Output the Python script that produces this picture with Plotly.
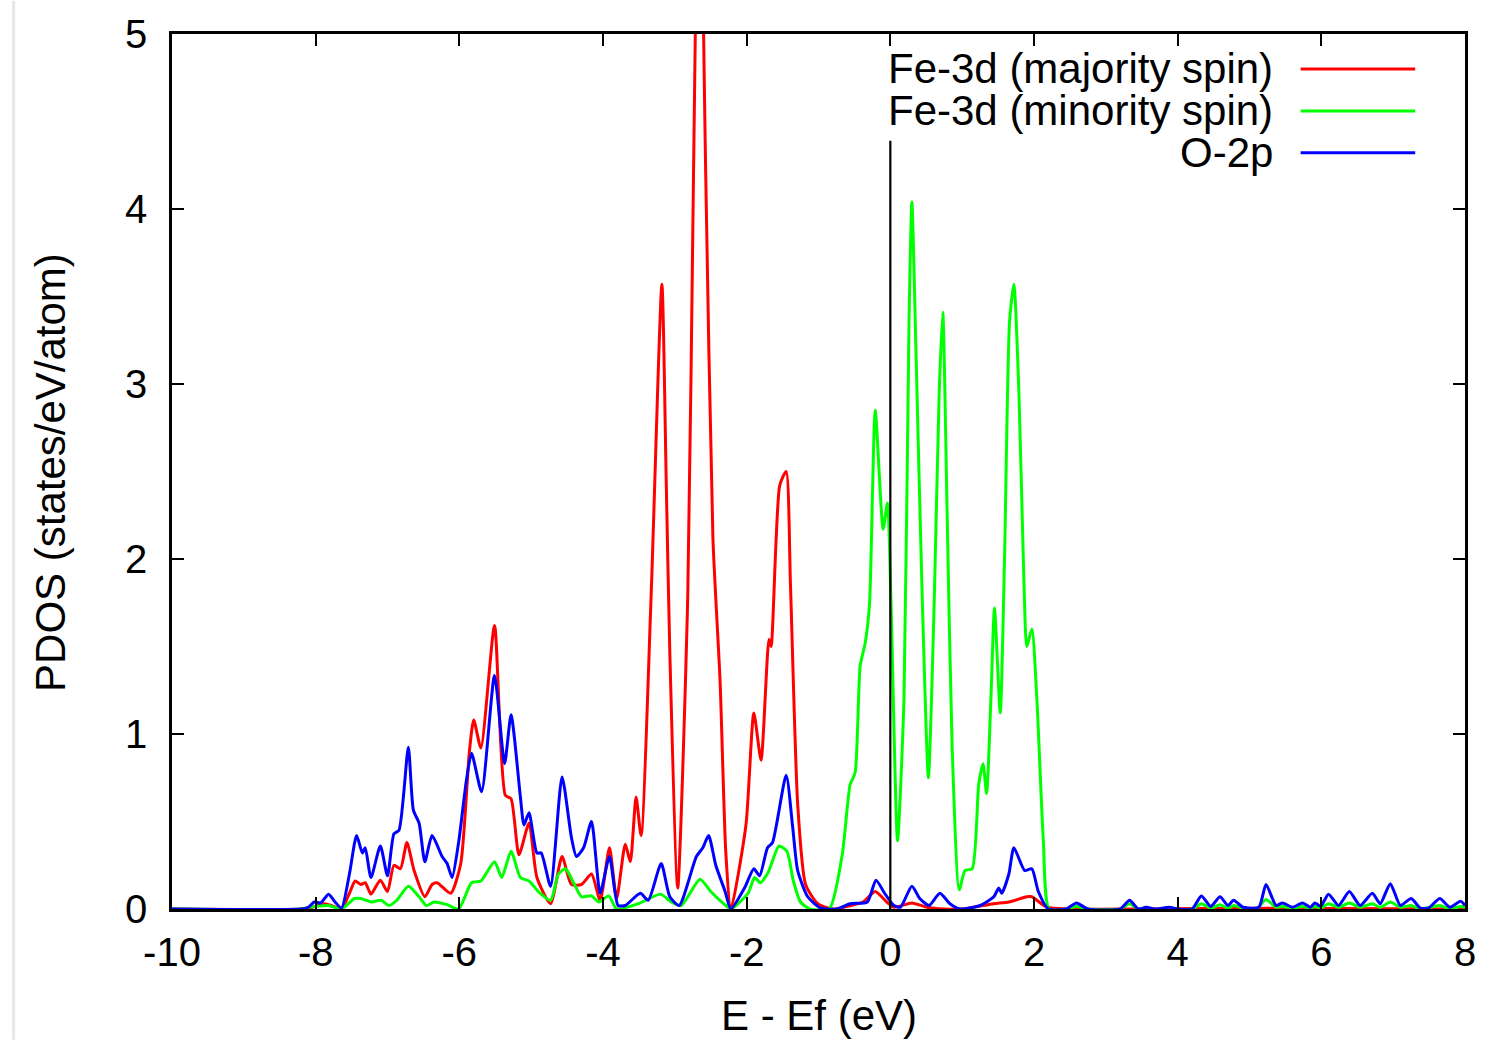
import plotly.graph_objects as go

# ---------------- data ----------------
e_up = [-10.0, -8.20, -8.05, -7.88, -7.78, -7.64, -7.53, -7.45, -7.37, -7.31, -7.23, -7.10, -7.00,
        -6.91, -6.82, -6.73, -6.63, -6.48, -6.38, -6.31, -6.12, -5.98, -5.86, -5.80, -5.70, -5.51,
        -5.36, -5.28, -5.17, -5.03, -4.92, -4.73, -4.57, -4.44, -4.30, -4.16, -4.04, -3.91, -3.81,
        -3.69, -3.62, -3.54, -3.47, -3.33, -3.18, -3.12, -3.07, -2.96, -2.82, -2.74, -2.66, -2.57,
        -2.47, -2.37, -2.29, -2.22, -2.01, -1.90, -1.80, -1.69, -1.66, -1.54, -1.45, -1.39, -1.29,
        -1.18, -1.01, -0.80, -0.55, -0.38, -0.21, -0.05, 0.05, 0.30, 0.51, 0.75, 1.00, 1.44, 1.65,
        1.90, 1.97, 2.18, 2.50, 5.23, 8.00]
dos_up = [0.0, 0.0, 0.01, 0.03, 0.02, 0.0, 0.09, 0.16, 0.14, 0.15, 0.085, 0.165, 0.10,
          0.25, 0.23, 0.38, 0.22, 0.07, 0.14, 0.15, 0.09, 0.26, 0.90, 1.08, 0.92, 1.62,
          0.65, 0.63, 0.31, 0.49, 0.18, 0.03, 0.30, 0.14, 0.14, 0.20, 0.05, 0.35, 0.06,
          0.37, 0.27, 0.64, 0.42, 1.79, 3.57, 2.45, 1.47, 0.12, 1.79, 4.20, 6.40, 4.20,
          2.12, 1.30, 0.32, 0.0, 0.48, 1.12, 0.85, 1.54, 1.50, 2.42, 2.50, 1.85, 0.60,
          0.14, 0.03, 0.0, 0.02, 0.04, 0.10, 0.04, 0.01, 0.035, 0.01, 0.0, 0.0, 0.03, 0.04,
          0.07, 0.07, 0.01, 0.0, 0.005, 0.0]

e_dn = [-10.0, -8.20, -8.09, -7.82, -7.64, -7.46, -7.37, -7.30, -7.23, -7.09, -6.98, -6.87, -6.71,
        -6.56, -6.46, -6.35, -6.17, -6.01, -5.83, -5.70, -5.51, -5.41, -5.28, -5.15, -5.03, -4.90,
        -4.73, -4.62, -4.52, -4.41, -4.30, -4.16, -4.06, -3.92, -3.81, -3.51, -3.20, -3.05, -2.91,
        -2.65, -2.50, -2.29, -2.22, -1.98, -1.89, -1.81, -1.70, -1.55, -1.44, -1.35, -1.25, -1.12,
        -0.85, -0.67, -0.56, -0.49, -0.42, -0.35, -0.29, -0.21, -0.10, -0.04, 0.01, 0.10, 0.19,
        0.26, 0.30, 0.36, 0.44, 0.53, 0.61, 0.68, 0.73, 0.79, 0.86, 0.96, 1.04, 1.14, 1.23, 1.29,
        1.34, 1.40, 1.45, 1.53, 1.59, 1.66, 1.72, 1.79, 1.86, 1.90, 1.97, 2.04, 2.13, 2.21, 2.45,
        2.59, 2.75, 3.20, 3.33, 3.45, 4.20, 4.33, 4.46, 4.59, 4.70, 4.78, 4.95, 5.10, 5.23, 5.37,
        5.46, 5.60, 5.74, 5.85, 5.91, 5.99, 6.10, 6.24, 6.39, 6.54, 6.71, 6.82, 6.96, 7.10, 7.25,
        7.38, 7.65, 7.79, 7.94, 8.00]
dos_dn = [0.0, 0.0, 0.01, 0.02, 0.0, 0.06, 0.06, 0.05, 0.04, 0.05, 0.02, 0.05, 0.13,
          0.07, 0.02, 0.04, 0.025, 0.0, 0.15, 0.16, 0.27, 0.18, 0.33, 0.18, 0.16, 0.10,
          0.05, 0.20, 0.23, 0.15, 0.07, 0.075, 0.04, 0.075, 0.0, 0.03, 0.085, 0.04, 0.02,
          0.17, 0.10, 0.02, 0.0, 0.09, 0.18, 0.15, 0.21, 0.36, 0.33, 0.16, 0.04, 0.0,
          0.0, 0.31, 0.71, 0.78, 1.39, 1.52, 1.74, 2.85, 2.17, 2.32, 1.74, 0.39, 1.20,
          3.36, 4.04, 3.14, 1.84, 0.75, 1.74, 2.95, 3.41, 2.28, 0.93, 0.11, 0.22, 0.23, 0.71, 0.83,
          0.66, 1.20, 1.72, 1.12, 2.01, 3.36, 3.57, 2.95, 1.87, 1.50, 1.60, 1.20, 0.39, 0.0, 0.0,
          0.015, 0.0, 0.0, 0.03, 0.0, 0.0, 0.03, 0.005, 0.025, 0.005, 0.02, 0.0, 0.0, 0.055, 0.01,
          0.015, 0.005, 0.015, 0.005, 0.015, 0.005, 0.03, 0.01, 0.035, 0.01, 0.03, 0.01, 0.04, 0.01, 0.02,
          0.0, 0.02, 0.0, 0.015, 0.01]

e_o2p = [-10.0, -8.20, -8.10, -8.02, -7.93, -7.82, -7.73, -7.64, -7.53, -7.43, -7.35, -7.31, -7.23,
         -7.10, -7.00, -6.91, -6.84, -6.71, -6.64, -6.56, -6.48, -6.38, -6.24, -6.17, -6.10, -6.01,
         -5.90, -5.83, -5.69, -5.51, -5.37, -5.28, -5.15, -5.10, -5.03, -4.92, -4.86, -4.73, -4.57,
         -4.44, -4.37, -4.27, -4.16, -4.04, -3.91, -3.79, -3.69, -3.48, -3.37, -3.19, -3.07, -2.94,
         -2.70, -2.61, -2.53, -2.43, -2.30, -2.22, -2.03, -1.90, -1.82, -1.71, -1.64, -1.45, -1.36,
         -1.29, -1.15, -0.97, -0.74, -0.56, -0.32, -0.20, -0.08, 0.05, 0.14, 0.30, 0.41, 0.54, 0.69,
         0.83, 0.97, 1.25, 1.44, 1.51, 1.55, 1.65, 1.72, 1.87, 1.97, 2.06, 2.20, 2.45, 2.59, 2.75,
         3.20, 3.33, 3.45, 3.56, 3.70, 3.88, 4.00, 4.20, 4.33, 4.46, 4.59, 4.70, 4.78, 4.91, 5.13,
         5.23, 5.37, 5.46, 5.60, 5.74, 5.85, 5.91, 5.99, 6.10, 6.24, 6.39, 6.54, 6.71, 6.82, 6.96,
         7.10, 7.25, 7.38, 7.49, 7.65, 7.79, 7.94, 8.00]
dos_o2p = [0.0, 0.0, 0.01, 0.04, 0.035, 0.085, 0.04, 0.005, 0.20, 0.42, 0.32, 0.35, 0.18,
           0.36, 0.19, 0.43, 0.45, 0.925, 0.565, 0.49, 0.27, 0.42, 0.30, 0.26, 0.18, 0.38,
           0.74, 0.89, 0.67, 1.335, 0.83, 1.11, 0.64, 0.48, 0.55, 0.32, 0.32, 0.13, 0.755,
           0.41, 0.30, 0.35, 0.50, 0.09, 0.30, 0.02, 0.02, 0.09, 0.05, 0.26, 0.07, 0.02,
           0.30, 0.35, 0.42, 0.25, 0.10, 0.0, 0.12, 0.23, 0.19, 0.35, 0.38, 0.765, 0.47,
           0.22, 0.07, 0.005, 0.0, 0.03, 0.04, 0.165, 0.09, 0.02, 0.01, 0.13, 0.06, 0.02, 0.09,
           0.03, 0.0, 0.02, 0.07, 0.12, 0.09, 0.20, 0.35, 0.22, 0.23, 0.10, 0.0, 0.0, 0.035, 0.0,
           0.0, 0.05, 0.0, 0.01, 0.0, 0.01, 0.0, 0.0, 0.075, 0.015, 0.07, 0.02, 0.05, 0.01, 0.01,
           0.14, 0.02, 0.035, 0.01, 0.035, 0.01, 0.035, 0.015, 0.085, 0.02, 0.10, 0.02, 0.09, 0.03, 0.145,
           0.02, 0.06, 0.005, 0.005, 0.06, 0.01, 0.045, 0.02]

series_names = ["Fe-3d (majority spin)", "Fe-3d (minority spin)", "O-2p"]
series_colors = ["#ff0000", "#00ff00", "#0000ff"]
x_ticks = [-10, -8, -6, -4, -2, 0, 2, 4, 6, 8]
y_ticks = [0, 1, 2, 3, 4, 5]
fermi_line_top = 4.39

# ---------------- figure ----------------
W, H = 1488, 1040
L, R, T, B = 172, 18, 33, 131
pw, ph = W - L - R, H - T - B


def px_x(p):
    return (p - L) / pw


def px_y(p):
    return (H - B - p) / ph


FONT = "Liberation Sans, Arial, Helvetica, sans-serif"
fig = go.Figure()

for xs, ys, name, col in zip([e_up, e_dn, e_o2p], [dos_up, dos_dn, dos_o2p], series_names, series_colors):
    fig.add_trace(go.Scatter(x=xs, y=ys, mode="lines", name=name,
                             line=dict(color=col, width=3, shape="spline", smoothing=0.6),
                             showlegend=False))

axis_common = dict(showline=True, linecolor="black", linewidth=2.5, mirror="ticks",
                   ticks="inside", ticklen=12, tickwidth=2, tickcolor="black",
                   showgrid=False, zeroline=False,
                   tickfont=dict(family=FONT, size=40, color="black"))

fig.update_xaxes(range=[-10, 8], tickmode="array", tickvals=x_ticks,
                 ticktext=[str(v) for v in x_ticks], ticklabelstandoff=6, **axis_common)
fig.update_yaxes(range=[0, 5], tickmode="array", tickvals=y_ticks,
                 ticktext=[str(v) for v in y_ticks], ticklabelstandoff=14, **axis_common)

shapes = [
    dict(type="line", xref="x", yref="y", x0=0, x1=0, y0=0, y1=fermi_line_top,
         line=dict(color="black", width=2.2), layer="above"),
    dict(type="line", xref="paper", yref="paper", x0=px_x(13), x1=px_x(13),
         y0=px_y(0), y1=px_y(H), line=dict(color="#e6e6e6", width=3), layer="below"),
]
annotations = [
    dict(text="E - Ef (eV)", xref="paper", yref="paper", x=px_x(821), y=px_y(1016),
         xanchor="center", yanchor="middle", showarrow=False,
         font=dict(family=FONT, size=42, color="black")),
    dict(text="PDOS (states/eV/atom)", xref="paper", yref="paper", x=px_x(50), y=px_y(472),
         xanchor="center", yanchor="middle", textangle=-90, showarrow=False,
         font=dict(family=FONT, size=42, color="black")),
]
legend_y = [68, 110, 152]
for name, col, yy in zip(series_names, series_colors, legend_y):
    annotations.append(dict(text=name, xref="paper", yref="paper", x=px_x(1279), y=px_y(yy),
                            xanchor="right", yanchor="middle", showarrow=False,
                            font=dict(family=FONT, size=42, color="black")))
    shapes.append(dict(type="line", xref="paper", yref="paper", x0=px_x(1305), x1=px_x(1420),
                       y0=px_y(yy), y1=px_y(yy), line=dict(color=col, width=3)))

fig.update_layout(width=W, height=H, margin=dict(l=L, r=R, t=T, b=B),
                  paper_bgcolor="white", plot_bgcolor="white",
                  shapes=shapes, annotations=annotations, showlegend=False)

fig.write_html("out.html", config={"displayModeBar": False},
               post_script="document.body.style.margin='0px';document.body.style.padding='0px';"
                           "document.body.style.overflow='hidden';"
                           "document.documentElement.style.overflow='hidden';")
